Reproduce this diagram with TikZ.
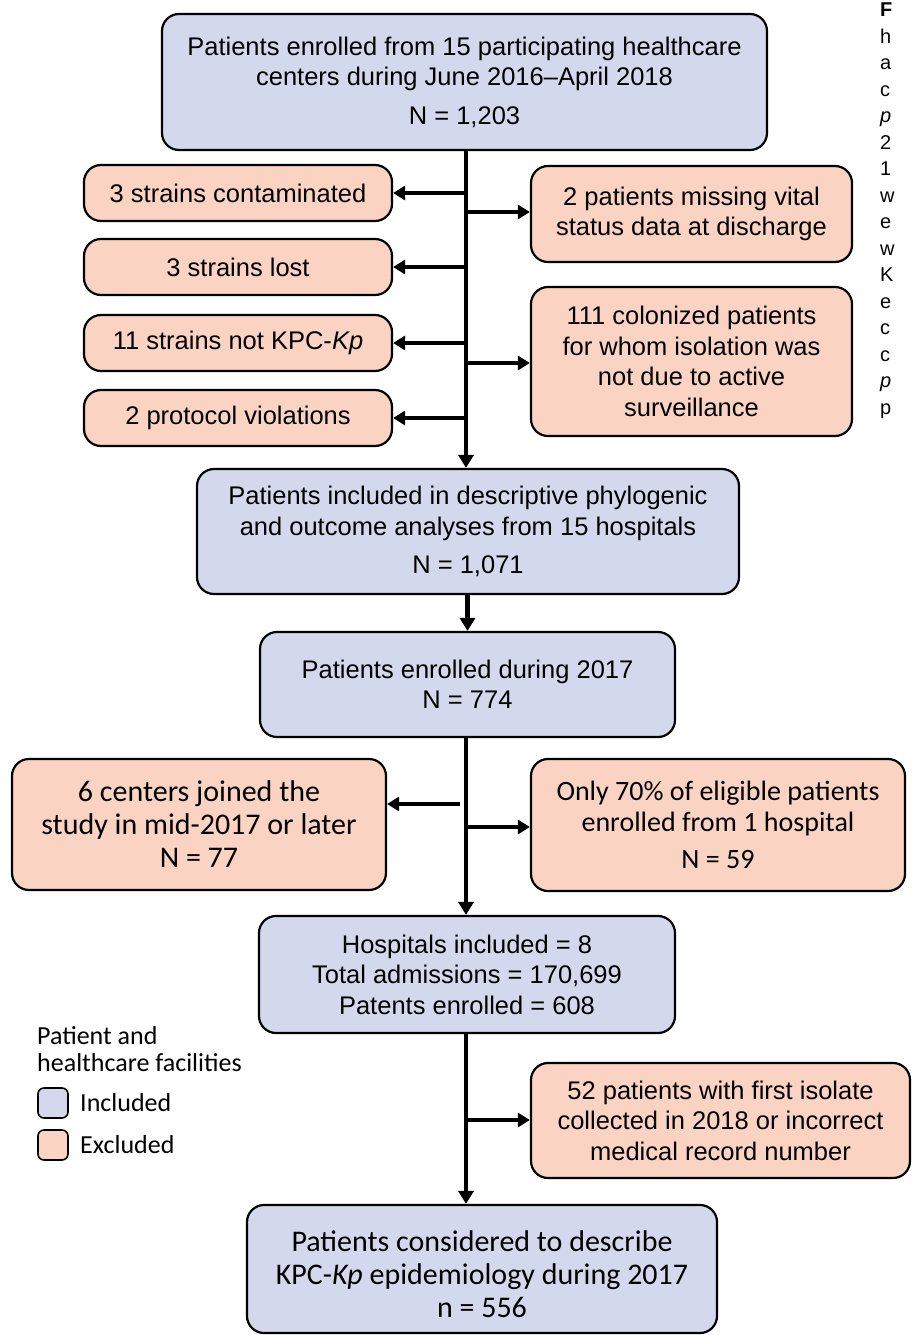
\documentclass[tikz,border=0pt]{standalone}
\usepackage{fontspec}
\setmainfont{Liberation Sans}
\newfontfamily\calfont{Carlito}
\usetikzlibrary{arrows.meta}
\definecolor{incfill}{HTML}{D4D8EC}
\definecolor{excfill}{HTML}{FAD3C2}
\begin{document}
\begin{tikzpicture}[x=1pt,y=-1pt,
  box/.style={draw=black, line width=2.2pt, rounded corners=17pt, align=center, inner sep=0pt,
              font=\fontsize{25.5}{30.5}\selectfont},
  inc/.style={box, fill=incfill},
  exc/.style={box, fill=excfill},
  calA/.style={font=\calfont\fontsize{30}{33}\selectfont},
  calB/.style={font=\calfont\fontsize{28}{31}\selectfont},
  arr/.style={line width=3.5pt, -{Triangle[length=12pt,width=14pt]}},
  spine/.style={line width=4.5pt, -{Triangle[length=13pt,width=15pt]}},
  swatch/.style={draw=black, line width=1.6pt, rounded corners=6pt, minimum width=30pt, minimum height=30pt, inner sep=0pt},
  legtext/.style={anchor=west, inner sep=0pt, align=left, font=\calfont\fontsize{26}{27}\selectfont},
]
\useasboundingbox (0,0) rectangle (912,1335);

% main column
\node[inc, minimum width=605pt, minimum height=136pt] (top) at (464.5,82)
  {Patients enrolled from 15 participating healthcare\\centers during June 2016–April 2018\\[8pt]N = 1,203};
\node[inc, minimum width=542pt, minimum height=125pt] (b2) at (468,531.5)
  {Patients included in descriptive phylogenic\\and outcome analyses from 15 hospitals\\[8pt]N = 1,071};
\node[inc, minimum width=415pt, minimum height=105pt] (b3) at (467.5,684.5)
  {Patients enrolled during 2017\\N = 774};
\node[inc, minimum width=416pt, minimum height=117pt] (b4) at (467,974.5)
  {Hospitals included = 8\\Total admissions = 170,699\\Patents enrolled = 608};
\node[inc, calA, minimum width=470pt, minimum height=128pt] (b5) at (482,1269)
  {\mbox{}\\[-2pt]Patients considered to describe\\KPC-\textit{Kp} epidemiology during 2017\\n = 556};

% excluded boxes, first stage
\node[exc, minimum width=308pt, minimum height=56pt] (l1) at (238,193) {3 strains contaminated};
\node[exc, minimum width=308pt, minimum height=56pt] (l2) at (238,267) {3 strains lost};
\node[exc, minimum width=308pt, minimum height=56pt] (l3) at (238,343) {11 strains not KPC-\textit{Kp}};
\node[exc, minimum width=308pt, minimum height=56pt] (l4) at (238,418) {2 protocol violations};
\node[exc, minimum width=321pt, minimum height=96pt] (r1) at (691.5,214)
  {2 patients missing vital\\status data at discharge};
\node[exc, minimum width=321pt, minimum height=149pt] (r2) at (691.5,361.5)
  {111 colonized patients\\for whom isolation was\\not due to active\\surveillance};

% excluded boxes, second stage
\node[exc, calA, minimum width=374pt, minimum height=131pt] (l5) at (199,824.5)
  {6 centers joined the\\study in mid-2017 or later\\N = 77};
\node[exc, calB, minimum width=374pt, minimum height=132pt] (r3) at (718,825)
  {Only 70\% of eligible patients\\enrolled from 1 hospital\\[6pt]N = 59};
\node[exc, minimum width=379pt, minimum height=115pt] (r4) at (720.5,1120.5)
  {52 patients with first isolate\\collected in 2018 or incorrect\\medical record number};

% connectors
\coordinate (sx) at (466,0);
\draw[spine] (top.south -| sx) -- (b2.north -| sx);
\foreach \n in {l1,l2,l3,l4} \draw[arr] (\n.east -| sx) -- (\n.east);
\coordinate (r1y) at (0,212);
\draw[arr] (r1y -| sx) -- (r1y -| r1.west);
\coordinate (r2y) at (0,363);
\draw[arr] (r2y -| sx) -- (r2y -| r2.west);

\coordinate (bx) at (467.5,0);
\draw[spine] (b2.south -| bx) -- (b3.north -| bx);

\draw[spine] (b3.south -| sx) -- (b4.north -| sx);
\coordinate (l5s) at (460,804);
\draw[arr] (l5s) -- (l5s -| l5.east);
\coordinate (r3y) at (0,827);
\draw[arr] (r3y -| sx) -- (r3y -| r3.west);

\draw[spine] (b4.south -| sx) -- (b5.north -| sx);
\coordinate (r4y) at (0,1120);
\draw[arr] (r4y -| sx) -- (r4y -| r4.west);

% legend
\node[legtext] (legtitle) at (37,1049) {Patient and\\healthcare facilities};
\node[swatch, fill=incfill] (swinc) at (53,1103) {};
\node[swatch, fill=excfill] (swexc) at (53,1145) {};
\node[legtext] (linc) at (80,1103) {Included};
\node[legtext] (lexc) at (80,1145) {Excluded};

% clipped caption fragment
\node[anchor=north west, align=left, inner sep=0pt, font=\fontsize{20}{26.5}\selectfont] (cap) at (880,3)
  {\textbf{F}\\h\\a\\c\\\textit{p}\\2\\1\\w\\e\\w\\K\\e\\c\\c\\\textit{p}\\p};
\end{tikzpicture}
\end{document}
